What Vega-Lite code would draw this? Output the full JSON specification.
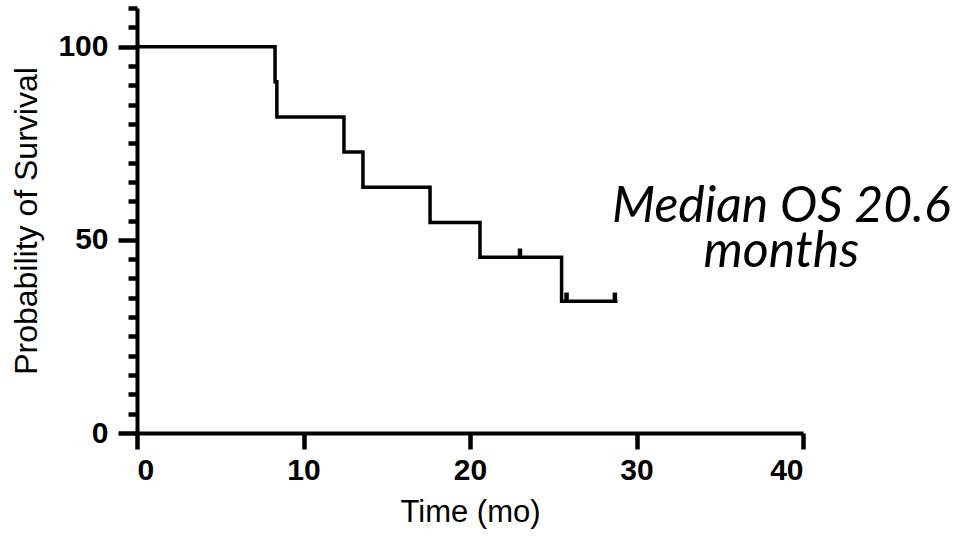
{
  "$schema": "https://vega.github.io/schema/vega-lite/v6.json",
  "autosize": "none",
  "width": 666,
  "height": 425,
  "padding": {"left": 137, "top": 8, "right": 170, "bottom": 113},
  "background": "white",
  "config": {
    "view": {"stroke": null},
    "axis": {
      "domainColor": "black", "domainWidth": 4,
      "tickColor": "black", "tickWidth": 4.5,
      "labelColor": "black", "titleColor": "black",
      "labelFont": "Liberation Sans", "titleFont": "Liberation Sans",
      "labelFontWeight": "bold", "titleFontWeight": "normal",
      "grid": false
    }
  },
  "datasets": {
    "curve": [
      {"time": 0, "survival": 100},
      {"time": 8.29, "survival": 90.9},
      {"time": 8.4, "survival": 81.8},
      {"time": 12.43, "survival": 72.7},
      {"time": 13.57, "survival": 63.6},
      {"time": 17.6, "survival": 54.5},
      {"time": 20.6, "survival": 45.5},
      {"time": 25.5, "survival": 34.1},
      {"time": 28.75, "survival": 34.1}
    ],
    "censor": [
      {"time": 23.0, "survival": 45.5},
      {"time": 25.8, "survival": 34.1},
      {"time": 28.7, "survival": 34.1}
    ],
    "note": [
      {"text": "Median OS 20.6\nmonths"}
    ]
  },
  "layer": [
    {
      "data": {"name": "curve"},
      "mark": {"type": "line", "interpolate": "step-after", "color": "black", "strokeWidth": 3.5, "strokeCap": "square"},
      "encoding": {
        "x": {
          "field": "time", "type": "quantitative",
          "scale": {"domain": [0, 40], "nice": false},
          "axis": {
            "values": [0, 10, 20, 30, 40],
            "title": "Time (mo)",
            "tickSize": 16, "tickWidth": 4.5,
            "labelFontSize": 30, "labelPadding": 6,
            "titleFontSize": 31, "titlePadding": 12
          }
        },
        "y": {
          "field": "survival", "type": "quantitative",
          "scale": {"domain": [0, 110], "nice": false},
          "axis": {
            "values": [0, 5, 10, 15, 20, 25, 30, 35, 40, 45, 50, 55, 60, 65, 70, 75, 80, 85, 90, 95, 100, 105, 110],
            "labelExpr": "datum.value % 50 === 0 ? datum.label : ''",
            "labelOverlap": false,
            "title": "Probability of Survival",
            "tickWidth": 4.5,
            "tickSize": {"condition": {"test": "datum.value % 50 === 0", "value": 19}, "value": 9},
            "labelFontSize": 30, "labelPadding": 10,
            "titleFontSize": 32, "titlePadding": 14
          }
        }
      }
    },
    {
      "data": {"name": "censor"},
      "mark": {"type": "point", "shape": "M0,0L0,-1", "size": 300, "filled": false, "stroke": "black", "opacity": 1, "strokeWidth": 4.5, "strokeCap": "butt"},
      "encoding": {
        "x": {
          "field": "time", "type": "quantitative",
          "scale": {"domain": [0, 40], "nice": false},
          "axis": {
            "values": [0, 10, 20, 30, 40],
            "title": "Time (mo)",
            "tickSize": 16, "tickWidth": 4.5,
            "labelFontSize": 30, "labelPadding": 6,
            "titleFontSize": 31, "titlePadding": 12
          }
        },
        "y": {
          "field": "survival", "type": "quantitative",
          "scale": {"domain": [0, 110], "nice": false},
          "axis": {
            "values": [0, 5, 10, 15, 20, 25, 30, 35, 40, 45, 50, 55, 60, 65, 70, 75, 80, 85, 90, 95, 100, 105, 110],
            "labelExpr": "datum.value % 50 === 0 ? datum.label : ''",
            "labelOverlap": false,
            "title": "Probability of Survival",
            "tickWidth": 4.5,
            "tickSize": {"condition": {"test": "datum.value % 50 === 0", "value": 19}, "value": 9},
            "labelFontSize": 30, "labelPadding": 10,
            "titleFontSize": 32, "titlePadding": 14
          }
        }
      }
    },
    {
      "data": {"name": "note"},
      "mark": {"type": "text", "font": "Lato", "fontStyle": "italic", "fontSize": 50, "color": "black", "align": "center", "baseline": "middle", "lineBreak": "\n", "lineHeight": 45},
      "encoding": {
        "text": {"field": "text"},
        "x": {
          "datum": 38.7, "type": "quantitative",
          "scale": {"domain": [0, 40], "nice": false},
          "axis": {
            "values": [0, 10, 20, 30, 40],
            "title": "Time (mo)",
            "tickSize": 16, "tickWidth": 4.5,
            "labelFontSize": 30, "labelPadding": 6,
            "titleFontSize": 31, "titlePadding": 12
          }
        },
        "y": {
          "datum": 58.5, "type": "quantitative",
          "scale": {"domain": [0, 110], "nice": false},
          "axis": {
            "values": [0, 5, 10, 15, 20, 25, 30, 35, 40, 45, 50, 55, 60, 65, 70, 75, 80, 85, 90, 95, 100, 105, 110],
            "labelExpr": "datum.value % 50 === 0 ? datum.label : ''",
            "labelOverlap": false,
            "title": "Probability of Survival",
            "tickWidth": 4.5,
            "tickSize": {"condition": {"test": "datum.value % 50 === 0", "value": 19}, "value": 9},
            "labelFontSize": 30, "labelPadding": 10,
            "titleFontSize": 32, "titlePadding": 14
          }
        }
      }
    }
  ]
}
